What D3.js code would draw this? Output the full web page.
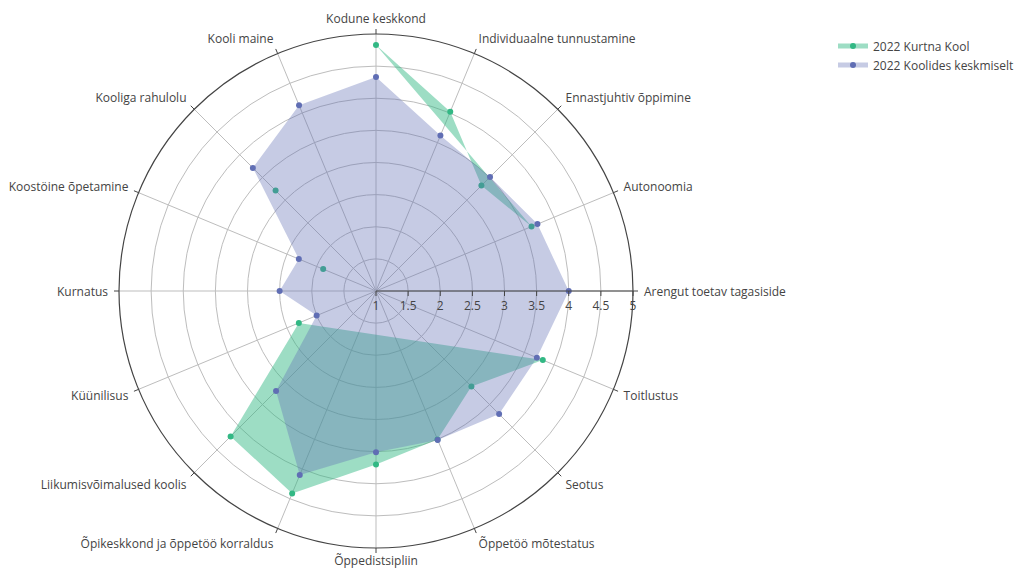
<!DOCTYPE html>
<html>
<head>
<meta charset="utf-8">
<script src="https://cdn.jsdelivr.net/npm/d3@7"></script>
<style>
    body { margin: 0; background: #fff; }
    text { font-family: "Open Sans", "DejaVu Sans", sans-serif; }
</style>
</head>
<body>
<div id="chart"></div>
<script>
const categories = [
    "Kodune keskkond", "Individuaalne tunnustamine", "Ennastjuhtiv õppimine", "Autonoomia",
    "Arengut toetav tagasiside", "Toitlustus", "Seotus", "Õppetöö mõtestatus",
    "Õppedistsipliin", "Õpikeskkond ja õppetöö korraldus", "Liikumisvõimalused koolis", "Küünilisus",
    "Kurnatus", "Koostöine õpetamine", "Kooliga rahulolu", "Kooli maine"
];
const kurtna = [4.83, 4.02, 3.32, 3.62, null, 3.81, 3.10, 3.50, 3.70, 4.41, 4.20, 2.30, null, 1.89, 3.21, null];
const keskmine = [4.33, 3.62, 3.51, 3.72, 4.00, 3.71, 3.71, 3.51, 3.51, 4.10, 3.20, 2.00, 2.50, 2.30, 3.71, 4.13];
const radialTicks = [1, 1.5, 2, 2.5, 3, 3.5, 4, 4.5, 5];
const seriesNames = ["2022 Kurtna Kool", "2022 Koolides keskmiselt"];

(function () {
    const width = 1020, height = 568;
    const cx = 376, cy = 291, R = 257;
    const svg = d3.select("#chart")
        .append("svg")
        .attr("width", width)
        .attr("height", height);

    const r = d3.scaleLinear().domain([1, 5]).range([0, R]);
    const angle = d3.scaleLinear().domain([0, categories.length]).range([0, 2 * Math.PI]);
    const series = [
        { name: seriesNames[0], values: kurtna, color: "rgb(50,184,132)", fill: "rgba(50,184,132,0.48)" },
        { name: seriesNames[1], values: keskmine, color: "rgb(96,110,180)", fill: "rgba(96,110,180,0.36)" }
    ];

    const g = svg.append("g").attr("transform", `translate(${cx},${cy})`);

    // grid circles
    g.append("g")
        .selectAll("circle")
        .data(radialTicks.filter(t => t > 1 && t < 5))
        .join("circle")
        .attr("r", d => r(d))
        .attr("fill", "none")
        .attr("stroke", "#bdbdbd")
        .attr("stroke-width", 1);

    // spokes
    g.append("g")
        .selectAll("line")
        .data(categories)
        .join("line")
        .attr("x1", 0).attr("y1", 0)
        .attr("x2", (d, i) => R * Math.sin(angle(i)))
        .attr("y2", (d, i) => -R * Math.cos(angle(i)))
        .attr("stroke", "#bdbdbd")
        .attr("stroke-width", 1);

    // traces (gaps split the fill into separate closed pieces)
    const radial = d3.lineRadial()
        .angle(d => angle(d.i))
        .radius(d => r(d.v))
        .curve(d3.curveLinearClosed);
    series.forEach(s => {
        const segs = [];
        let cur = [];
        s.values.forEach((v, i) => {
            if (v == null) { if (cur.length) segs.push(cur); cur = []; }
            else cur.push({ i, v });
        });
        if (cur.length) segs.push(cur);
        const tg = g.append("g");
        tg.selectAll("path")
            .data(segs.filter(d => d.length > 2))
            .join("path")
            .attr("d", radial)
            .attr("fill", s.fill)
            .attr("stroke", "none");
        tg.selectAll("circle")
            .data(s.values.map((v, i) => ({ i, v })).filter(d => d.v != null))
            .join("circle")
            .attr("cx", d => r(d.v) * Math.sin(angle(d.i)))
            .attr("cy", d => -r(d.v) * Math.cos(angle(d.i)))
            .attr("r", 3)
            .attr("fill", s.color);
    });

    // outer circle + angular ticks
    g.append("circle")
        .attr("r", R)
        .attr("fill", "none")
        .attr("stroke", "#444")
        .attr("stroke-width", 1.2);
    g.append("g")
        .selectAll("line")
        .data(categories)
        .join("line")
        .attr("x1", (d, i) => R * Math.sin(angle(i)))
        .attr("y1", (d, i) => -R * Math.cos(angle(i)))
        .attr("x2", (d, i) => (R + 5) * Math.sin(angle(i)))
        .attr("y2", (d, i) => -(R + 5) * Math.cos(angle(i)))
        .attr("stroke", "#444");

    // category labels
    g.append("g")
        .attr("font-size", 12)
        .attr("fill", "#444")
        .selectAll("text")
        .data(categories)
        .join("text")
        .attr("x", (d, i) => (R + 11) * Math.sin(angle(i)))
        .attr("y", (d, i) => {
            const c = Math.cos(angle(i));
            // bottom label pulled up a little so it stays inside the picture
            return -(R + 11) * c - (c < -0.99 ? 1 : 5) * c;
        })
        .attr("dominant-baseline", "central")
        .attr("text-anchor", (d, i) => {
            const s = Math.sin(angle(i));
            return s > 0.01 ? "start" : s < -0.01 ? "end" : "middle";
        })
        .text(d => d);

    // radial axis
    const ax = g.append("g");
    ax.append("line")
        .attr("x1", 0).attr("x2", R)
        .attr("stroke", "#444");
    ax.selectAll(".tick")
        .data(radialTicks)
        .join("line")
        .attr("x1", d => r(d)).attr("x2", d => r(d))
        .attr("y1", 0).attr("y2", 5)
        .attr("stroke", "#444");
    ax.selectAll("text")
        .data(radialTicks)
        .join("text")
        .attr("x", d => r(d))
        .attr("y", 14)
        .attr("dominant-baseline", "central")
        .attr("text-anchor", "middle")
        .attr("font-size", 12)
        .attr("fill", "#444")
        .text(d => d);

    // legend
    const lg = svg.append("g")
        .attr("transform", "translate(838, 46)")
        .selectAll("g")
        .data(series)
        .join("g")
        .attr("transform", (d, i) => `translate(0, ${i * 19})`);
    lg.append("rect")
        .attr("x", 0).attr("y", -2.5)
        .attr("width", 30).attr("height", 5)
        .attr("fill", d => d.fill);
    lg.append("circle")
        .attr("cx", 15).attr("cy", 0)
        .attr("r", 3)
        .attr("fill", d => d.color);
    lg.append("text")
        .attr("x", 35)
        .attr("dominant-baseline", "central")
        .attr("font-size", 12)
        .attr("fill", "#444")
        .text(d => d.name);
})();
</script>
</body>
</html>
